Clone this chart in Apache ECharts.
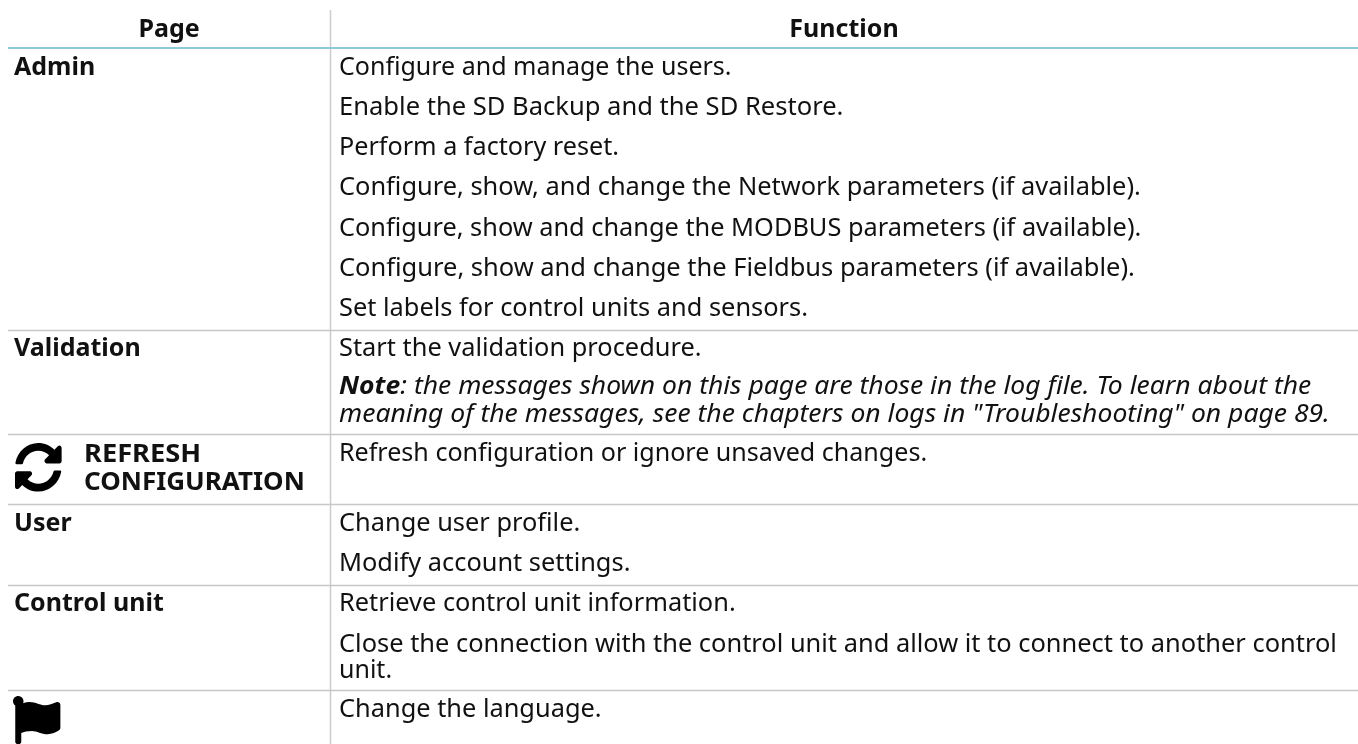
<!DOCTYPE html>
<html>
<head>
<meta charset="utf-8">
<style>html,body{margin:0;background:#fff}#main{width:1358px;height:744px}</style>
<script src="https://cdn.jsdelivr.net/npm/echarts@6/dist/echarts.min.js"></script>
</head>
<body>
<div id="main"></div>
<script>
// table text
var headers = ['Page', 'Function'];
var pageCells = ['Admin', 'Validation', 'REFRESH', 'CONFIGURATION', 'User', 'Control unit'];
var functionLines = [
    'Configure and manage the users.',
    'Enable the SD Backup and the SD Restore.',
    'Perform a factory reset.',
    'Configure, show, and change the Network parameters (if available).',
    'Configure, show and change the MODBUS parameters (if available).',
    'Configure, show and change the Fieldbus parameters (if available).',
    'Set labels for control units and sensors.',
    'Start the validation procedure.',
    ': the messages shown on this page are those in the log file. To learn about the',
    'meaning of the messages, see the chapters on logs in "Troubleshooting" on page 89.',
    'Refresh configuration or ignore unsaved changes.',
    'Change user profile.',
    'Modify account settings.',
    'Retrieve control unit information.',
    'Close the connection with the control unit and allow it to connect to another control',
    'unit.',
    'Change the language.'
];
var noteWord = 'Note';

// layout, kept apart from the text
var pageX = [14, 14, 84, 84, 14, 14];
var pageY = [68, 349, 455, 483, 524, 604];
var pageStretch = [1, 1, 1.09, 1.04, 1, 1];
var lineY = [68, 108, 148, 188, 229, 269, 309, 349, 387, 415, 454, 524, 564, 604, 645, 671, 710];
// the installed font runs a little narrow, each line is widened to its measured length
var lineStretch = [1, 1.022, 1.007, 1.016, 1.0135, 1.019, 1.015, 1.015, 1.06, 1.06, 1.003, 1.015, 1.015, 1.015, 1.017, 1, 1.015];
var ruleY = [330, 434, 504, 585, 690];
var textFont = '"Noto Sans"';
var fontSize = 25;
var ink = '#111111';

var syncIcon = 'M370.72 133.28C339.458 104.008 298.888 87.962 255.848 88c-77.458.068-144.328 53.178-162.791 126.85-1.344 5.363-6.122 9.15-11.651 9.15H24.103c-7.498 0-13.194-6.807-11.807-14.176C33.933 94.924 134.813 8 256 8c66.448 0 126.791 26.136 171.315 68.685L463.03 40.97C478.149 25.851 504 36.559 504 57.941V192c0 13.255-10.745 24-24 24H345.941c-21.382 0-32.09-25.851-16.971-40.971l41.75-41.749zM32 296h134.059c21.382 0 32.09 25.851 16.971 40.971l-41.75 41.75c31.262 29.273 71.835 45.319 114.876 45.28 77.418-.07 144.315-53.144 162.787-126.849 1.344-5.363 6.122-9.15 11.651-9.15h57.304c7.498 0 13.194 6.807 11.807 14.176C478.067 417.076 377.187 504 256 504c-66.448 0-126.791-26.136-171.315-68.685L48.97 471.03C33.851 486.149 8 475.441 8 454.059V320c0-13.255 10.745-24 24-24z';
var flagIcon = 'M349.565 98.783C295.978 98.783 251.721 64 184.348 64c-24.955 0-47.309 4.384-68.045 12.013a55.947 55.947 0 0 0 3.586-23.562C118.117 24.015 94.806 1.206 66.338.048 34.345-1.254 8 24.296 8 56c0 19.026 9.497 35.825 24 45.945V488c0 13.255 10.745 24 24 24h16c13.255 0 24-10.745 24-24v-94.4c28.311-12.064 63.582-22.122 114.435-22.122 53.588 0 97.844 34.783 165.217 34.783 48.169 0 86.667-16.294 122.505-40.858C506.84 359.452 512 349.571 512 339.045v-243.1c0-23.393-24.269-38.87-45.485-29.016-34.338 15.948-76.454 31.854-116.95 31.854z';

echarts.graphic.registerShape('syncIcon', echarts.graphic.extendPath(syncIcon, {}));
echarts.graphic.registerShape('flagIcon', echarts.graphic.extendPath(flagIcon, {}));

function font(italic, bold) {
    return (italic ? 'italic ' : '') + (bold ? 'bold ' : '') + fontSize + 'px ' + textFont;
}
function text(str, x, y, opt) {
    opt = opt || {};
    return {
        type: 'text', x: x, y: y, scaleX: opt.stretch || 1, originX: 0, originY: 0,
        style: {
            text: str, fill: ink, font: font(opt.italic, opt.bold),
            textAlign: opt.align || 'left', textVerticalAlign: 'middle',
            rich: opt.rich
        }
    };
}
function rule(x1, y1, x2, y2, color, w) {
    return { type: 'line', shape: { x1: x1, y1: y1, x2: x2, y2: y2 }, style: { stroke: color, lineWidth: w } };
}

var els = [];
els.push(rule(330.5, 10, 330.5, 744, '#cccccc', 1.5));
ruleY.forEach(function (y) { els.push(rule(8, y + 0.5, 1358, y + 0.5, '#c8c8c8', 1.5)); });
els.push(rule(8, 48, 1358, 48, '#8fc8dc', 2));
els.push(text(headers[0], 169, 30, { bold: true, align: 'center' }));
els.push(text(headers[1], 844, 30, { bold: true, align: 'center' }));
pageCells.forEach(function (s, i) {
    els.push(text(s, pageX[i], pageY[i], { bold: true, stretch: pageStretch[i] }));
});
functionLines.forEach(function (s, i) {
    if (i === 8) {
        els.push(text('{b|' + noteWord + '}{i|' + s + '}', 339, lineY[i], {
            italic: true, stretch: lineStretch[i],
            rich: {
                b: { font: font(true, true), fill: ink },
                i: { font: font(true, false), fill: ink }
            }
        }));
    } else {
        els.push(text(s, 339, lineY[i], { italic: i === 9, stretch: lineStretch[i] }));
    }
});
els.push({ type: 'syncIcon', x: 15 - 8 * 0.094, y: 443 - 8 * 0.098, scaleX: 0.094, scaleY: 0.098, style: { fill: '#000' } });
els.push({ type: 'flagIcon', x: 13 - 8 * 0.094, y: 696, scaleX: 0.094, scaleY: 0.094, style: { fill: '#000' } });

var myChart = echarts.init(document.getElementById('main'));
myChart.setOption({ backgroundColor: '#fff', animation: false, graphic: { elements: els } });
</script>
</body>
</html>
